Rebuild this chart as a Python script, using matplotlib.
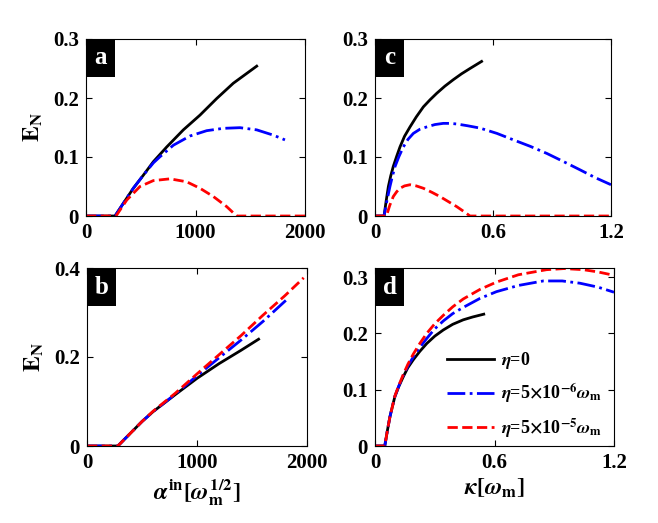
import matplotlib
matplotlib.use("Agg")
import matplotlib.pyplot as plt
from matplotlib.patches import Rectangle

plt.rcParams['font.family'] = ['Liberation Serif', 'DejaVu Serif']
plt.rcParams['font.weight'] = 'bold'
plt.rcParams['mathtext.fontset'] = 'stix'

# panel a: E_N vs alpha_in
a_x0 = [0, 265, 341, 432, 523, 615, 737, 889, 1041, 1193, 1345, 1559]
a_y0 = [0, 0, 0.0215, 0.047, 0.069, 0.092, 0.117, 0.146, 0.171, 0.199, 0.225, 0.254]
a_x1 = [0, 265, 341, 432, 523, 615, 676, 798, 950, 1102, 1254, 1406, 1559, 1711, 1817]
a_y1 = [0, 0, 0.0215, 0.047, 0.069, 0.090, 0.1005, 0.120, 0.1356, 0.1446, 0.1486, 0.1497, 0.146, 0.137, 0.129]
a_x2 = [0, 274, 372, 493, 615, 767, 919, 1041, 1163, 1284, 1376, 2000]
a_y2 = [0, 0, 0.027, 0.050, 0.060, 0.063, 0.058, 0.047, 0.033, 0.016, 0, 0]

# panel b: E_N vs alpha_in
b_x0 = [0, 280, 400, 500, 600, 800, 1000, 1200, 1400, 1560]
b_y0 = [0, 0, 0.030, 0.055, 0.077, 0.115, 0.152, 0.185, 0.215, 0.240]
b_x1 = [0, 280, 400, 500, 600, 800, 900, 1000, 1200, 1400, 1600, 1820]
b_y1 = [0, 0, 0.030, 0.055, 0.077, 0.116, 0.137, 0.158, 0.198, 0.238, 0.280, 0.330]
b_x2 = [0, 280, 400, 500, 600, 800, 900, 1000, 1200, 1400, 1600, 1800, 1970]
b_y2 = [0, 0, 0.030, 0.055, 0.078, 0.118, 0.140, 0.162, 0.205, 0.248, 0.294, 0.338, 0.378]

# panel c: E_N vs kappa
c_x0 = [0, 0.046, 0.057, 0.068, 0.080, 0.093, 0.110, 0.127, 0.150, 0.178, 0.21, 0.246, 0.28,
        0.314, 0.355, 0.398, 0.44, 0.483, 0.542]
c_y0 = [0, 0, 0.026, 0.050, 0.068, 0.084, 0.101, 0.117, 0.135, 0.151, 0.168, 0.185, 0.197,
        0.208, 0.220, 0.231, 0.241, 0.250, 0.262]
c_x1 = [0, 0.046, 0.06, 0.076, 0.089, 0.102, 0.122, 0.144, 0.168, 0.195, 0.228, 0.263, 0.305,
        0.347, 0.38, 0.415, 0.47, 0.534, 0.62, 0.704, 0.79, 0.874, 0.96, 1.044, 1.12, 1.2]
c_y1 = [0, 0, 0.025, 0.050, 0.068, 0.084, 0.101, 0.117, 0.130, 0.140, 0.147, 0.151, 0.155,
        0.157, 0.157, 0.156, 0.153, 0.149, 0.140, 0.129, 0.118, 0.106, 0.092, 0.078, 0.065, 0.053]
c_x2 = [0, 0.058, 0.075, 0.093, 0.110, 0.127, 0.150, 0.178, 0.21, 0.246, 0.29, 0.33, 0.375,
        0.415, 0.45, 0.483, 1.2]
c_y2 = [0, 0, 0.018, 0.033, 0.041, 0.047, 0.051, 0.053, 0.051, 0.047, 0.040, 0.033, 0.024,
        0.016, 0.008, 0, 0]

# panel d: E_N vs kappa
d_x0 = [0, 0.049, 0.062, 0.075, 0.088, 0.100, 0.12, 0.142, 0.165, 0.192, 0.225, 0.260, 0.30,
        0.343, 0.39, 0.443, 0.49, 0.546]
d_y0 = [0, 0, 0.027, 0.052, 0.071, 0.088, 0.106, 0.123, 0.139, 0.153, 0.168, 0.182, 0.195,
        0.206, 0.216, 0.224, 0.229, 0.234]
d_x1 = [0, 0.049, 0.062, 0.075, 0.088, 0.100, 0.12, 0.142, 0.165, 0.192, 0.225, 0.260, 0.30,
        0.343, 0.39, 0.443, 0.527, 0.61, 0.72, 0.845, 0.94, 1.029, 1.12, 1.2]
d_y1 = [0, 0, 0.027, 0.052, 0.071, 0.088, 0.107, 0.125, 0.142, 0.158, 0.175, 0.191, 0.208,
        0.222, 0.235, 0.246, 0.262, 0.274, 0.285, 0.293, 0.293, 0.289, 0.282, 0.273]
d_x2 = [0, 0.049, 0.062, 0.075, 0.088, 0.100, 0.12, 0.142, 0.165, 0.192, 0.225, 0.260, 0.30,
        0.343, 0.39, 0.443, 0.527, 0.61, 0.72, 0.861, 0.95, 1.046, 1.12, 1.2]
d_y2 = [0, 0, 0.027, 0.052, 0.071, 0.089, 0.108, 0.127, 0.145, 0.163, 0.182, 0.200, 0.217,
        0.232, 0.247, 0.261, 0.278, 0.291, 0.304, 0.313, 0.315, 0.313, 0.309, 0.303]

labels = [r'$\eta$=0',
          r'$\eta$=5$\times$10$^{\mathbf{-6}}\omega_{\mathbf{m}}$',
          r'$\eta$=5$\times$10$^{\mathbf{-5}}\omega_{\mathbf{m}}$']

W, H = 658, 523
fig = plt.figure(figsize=(W / 100, H / 100), dpi=100)


def make_ax(l, r, t, b):
    return fig.add_axes([l / W, 1 - b / H, (r - l) / W, (b - t) / H])


ax_a = make_ax(86, 305, 39, 216)
ax_c = make_ax(375, 611, 39, 216)
ax_b = make_ax(87, 307, 268, 446)
ax_d = make_ax(375, 614, 268, 446)

panels = [
    (ax_a, 'a', (a_x0, a_y0, a_x1, a_y1, a_x2, a_y2), (0, 2000), (0, 0.3)),
    (ax_b, 'b', (b_x0, b_y0, b_x1, b_y1, b_x2, b_y2), (0, 2000), (0, 0.4)),
    (ax_c, 'c', (c_x0, c_y0, c_x1, c_y1, c_x2, c_y2), (0, 1.2), (0, 0.3)),
    (ax_d, 'd', (d_x0, d_y0, d_x1, d_y1, d_x2, d_y2), (0, 1.2), (0, 0.316)),
]

for ax, letter, (x0, y0, x1, y1, x2, y2), xl, yl in panels:
    l0, = ax.plot(x0, y0, color='k', lw=2, ls='-')
    l1, = ax.plot(x1, y1, color='b', lw=2, ls='-.')
    l2, = ax.plot(x2, y2, color='r', lw=2, ls='--')
    ax.set_xlim(xl)
    ax.set_ylim(yl)
    ax.tick_params(direction='in', top=True, right=True, length=4, labelsize=15, pad=5)
    for s in ax.spines.values():
        s.set_linewidth(0.8)
    # black letter box in top-left corner
    bb = ax.get_position()
    bw = 29 / (bb.width * W)
    bh = 38 / (bb.height * H)
    ax.add_patch(Rectangle((0, 1 - bh), bw, bh, transform=ax.transAxes,
                           facecolor='k', edgecolor='none', zorder=5, clip_on=False))
    ax.text(bw / 2, 1 - bh / 2, letter, transform=ax.transAxes, color='w',
            fontsize=18, fontweight='bold', ha='center', va='center', zorder=6)
    if ax is ax_d:
        handles = [l0, l1, l2]

for ax in (ax_a, ax_b):
    ax.set_xticks([0, 1000, 2000])
    ax.set_xticklabels(['0', '1000', '2000'])
for ax in (ax_c, ax_d):
    ax.set_xticks([0, 0.6, 1.2])
    ax.set_xticklabels(['0', '0.6', '1.2'])
for ax in (ax_a, ax_c, ax_d):
    ax.set_yticks([0, 0.1, 0.2, 0.3])
    ax.set_yticklabels(['0', '0.1', '0.2', '0.3'])
ax_b.set_yticks([0, 0.2, 0.4])
ax_b.set_yticklabels(['0', '0.2', '0.4'])

ax_a.set_ylabel(r'$\mathbf{E}_{\mathbf{N}}$', fontsize=17, labelpad=6)
ax_b.set_ylabel(r'$\mathbf{E}_{\mathbf{N}}$', fontsize=17, labelpad=6)
ax_b.set_xlabel(r'$\alpha^{\mathbf{in}}[\omega_{\mathbf{m}}^{\mathbf{1/2}}]$', fontsize=17, labelpad=3)
ax_d.set_xlabel(r'$\kappa[\omega_{\mathbf{m}}]$', fontsize=17, labelpad=3)

ax_d.legend(handles, labels, loc='upper left', bbox_to_anchor=(0.27, 0.58), frameon=False,
            fontsize=13, handlelength=2.6, handletextpad=0.4, labelspacing=0.6,
            borderaxespad=0)

fig.savefig('out.png', dpi=100)
